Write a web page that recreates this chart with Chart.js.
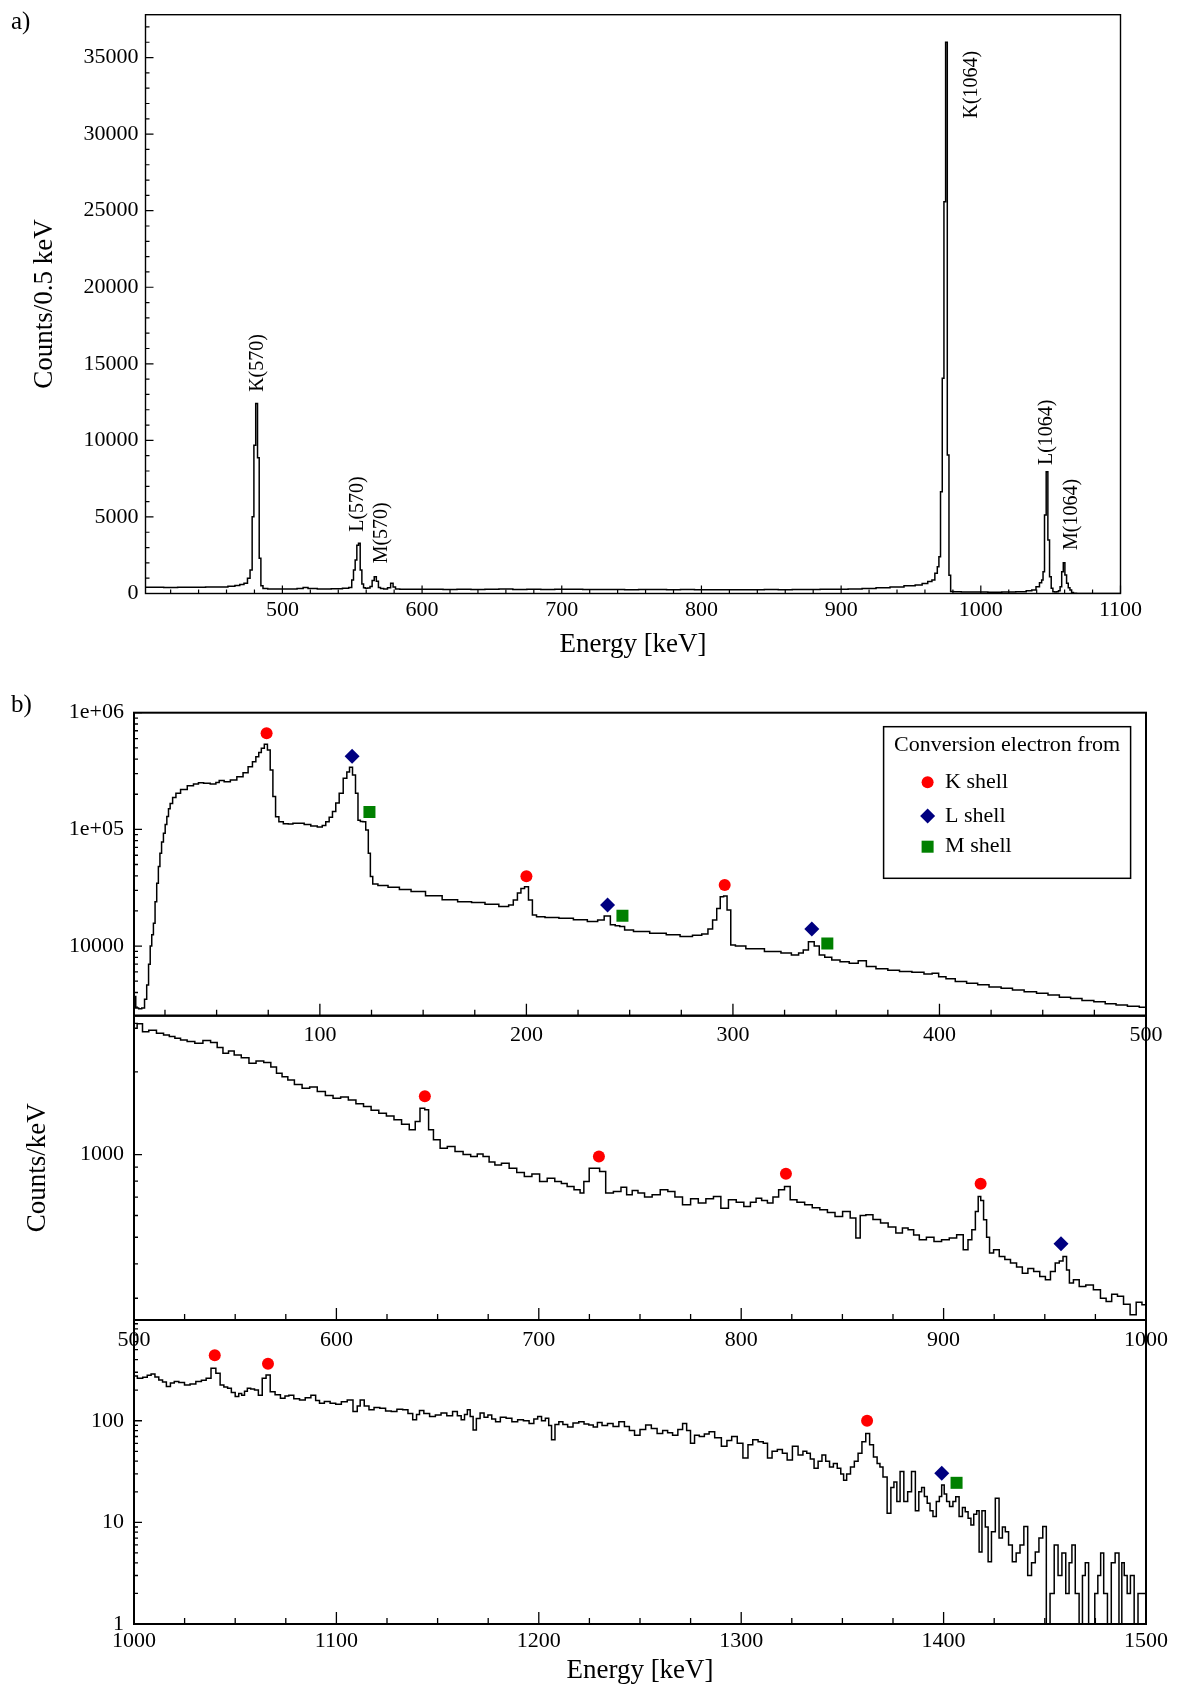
<!DOCTYPE html>
<html>
<head>
<meta charset="utf-8">
<script src="https://cdn.jsdelivr.net/npm/chart.js@4.4.1/dist/chart.umd.min.js"></script>
<style>
html,body{margin:0;padding:0;background:#fff;}
#page{position:relative;width:1177px;height:1691px;overflow:hidden;background:#fff;font-family:'Liberation Serif','Times New Roman',serif;}
canvas{position:absolute;left:0;}
.tag{position:absolute;font-size:25px;line-height:25px;color:#000;font-family:'Liberation Serif','Times New Roman',serif;}
</style>
</head>
<body>
<div id="page">
<canvas id="cA" width="1177" height="680" style="top:0px;width:1177px;height:680px"></canvas>
<canvas id="cB1" width="1177" height="372" style="top:690px;width:1177px;height:372px"></canvas>
<canvas id="cB2" width="1177" height="375" style="top:1000px;width:1177px;height:375px"></canvas>
<canvas id="cB3" width="1177" height="391" style="top:1300px;width:1177px;height:391px"></canvas>
<div class="tag" style="left:11px;top:8px">a)</div>
<div class="tag" style="left:11px;top:691px">b)</div>
</div>
<script>
// ---------------- DATA ----------------
// Panel a: [energy keV, counts per 0.5 keV]
const spectrumA = [[402,405],[410,410],[420,400],[430,408],[440,410],[450,418],[458,430],[464,470],[468,520],[471,580],[474,665],[476,990],[477.7,1530],[479,5010],[480.2,9690],[481.6,12415],[482.8,8860],[484,2300],[485.2,500],[487,330],[492,300],[500,290],[508,295],[513,330],[516.7,400],[520,320],[530,300],[540,310],[546,350],[549,400],[550.3,880],[551.5,1530],[552.7,2190],[553.9,3150],[555.1,3277],[556.3,1530],[557.5,620],[558.7,380],[560,340],[562,360],[563.5,450],[565,850],[566.5,1100],[568,800],[569.5,400],[571,320],[574,300],[576.5,380],[578.5,665],[580,420],[582,300],[586,285],[590,280],[600,270],[610,285],[620,268],[630,275],[640,262],[650,270],[660,290],[670,265],[680,270],[690,262],[700,275],[710,285],[720,265],[730,258],[740,262],[750,252],[760,260],[770,255],[780,250],[790,256],[800,246],[810,250],[820,245],[830,250],[840,246],[850,255],[860,250],[870,258],[880,265],[890,272],[900,285],[910,300],[920,330],[930,370],[940,420],[950,500],[956,555],[960,650],[964,780],[966,880],[968.2,1320],[969.5,1750],[970.5,2400],[971.8,6650],[973,14050],[974.2,25580],[975.4,36000],[976.6,9040],[977.8,1200],[979,130],[982,110],[990,95],[1000,90],[1010,85],[1020,90],[1030,110],[1035,180],[1038,230],[1041,445],[1043,700],[1044.1,880],[1045,1420],[1046.2,5120],[1047.4,7950],[1048.6,3490],[1049.8,1100],[1051,340],[1052.2,120],[1053.5,90],[1055,120],[1056.2,180],[1057.3,445],[1058.5,1420],[1059.6,2010],[1060.8,1210],[1062,665],[1063.2,380],[1064.4,230],[1065.6,60],[1067,10],[1070,5],[1080,0],[1090,0],[1100,0]];
const peakLabelsA = ['K(570)','L(570)','M(570)','K(1064)','L(1064)','M(1064)'];
const peakLabelAnchorsA = [[482.5,13170],[554.1,4030],[570.9,1970],[993.3,31020],[1047,8390],[1064.9,2840]];
const xTickLabelsA = [500,600,700,800,900,1000,1100];
const yTickLabelsA = [0,5000,10000,15000,20000,25000,30000,35000];

// Panel b, 10-500 keV: [energy keV, counts per keV]
const spectrumB1 = [[10.2,3700],[11.5,2950],[13,2900],[14.5,2950],[15.7,3500],[16.6,4640],[17.5,7000],[18.2,10000],[19,12500],[19.8,15700],[20.6,24000],[21.4,34500],[22.2,48000],[22.9,62400],[23.8,78000],[24.7,92700],[25.5,110000],[26.3,129000],[27.1,150000],[27.9,167000],[29.5,188000],[31.1,204000],[34,220000],[37.6,236000],[40,245000],[42.4,251000],[45,249000],[48.8,245000],[50.5,252000],[52,262000],[55.3,256000],[58,265000],[61.6,283000],[64,305000],[66.5,344000],[68.2,380000],[69.8,420000],[71,455000],[72.3,495000],[73.9,536000],[75.3,479000],[76.6,323000],[77.9,191000],[79.2,128000],[81.1,116000],[83.5,112000],[85.9,111000],[88,113000],[90.8,113000],[94,110000],[97.2,107000],[100.3,105000],[102,108000],[103.7,116000],[105.3,127000],[106.9,142000],[108.5,168000],[110.2,204000],[112.4,274000],[113.7,310000],[115,340000],[116.6,293000],[117.9,204000],[119,120000],[120.2,117000],[121.4,116000],[123,99000],[123.9,62400],[125,39400],[126.2,34000],[130,33000],[136,31900],[141,30500],[147.3,29300],[155,27000],[163.4,25000],[170,24000],[176.9,23600],[183,22800],[190.3,21800],[192.5,22500],[194.8,24800],[196.5,28500],[198.2,31200],[200,32300],[202,24800],[203.8,18500],[206,17800],[212,17600],[219.5,17300],[226,16800],[233,16200],[236,16700],[239.3,18100],[242,15200],[244,14900],[246.4,14700],[248.7,13700],[255,13300],[264.4,12900],[271,12500],[277.8,12100],[283,12400],[286.8,12700],[289,14000],[291.3,16700],[293,21000],[294.7,26500],[296.3,26800],[298,20400],[299.9,10200],[302.5,10000],[310,9500],[320.5,8970],[326,8700],[330.6,8390],[333,8700],[335.1,9270],[338,10900],[340.7,10000],[342.9,8390],[346,8000],[349.7,7600],[354,7350],[358.6,7130],[362.7,7500],[366.5,6670],[372,6400],[378,6200],[383.3,6040],[390,5950],[395,5750],[397.9,5850],[401.3,5470],[405,5250],[410.3,4960],[416,4800],[421,4650],[427,4450],[432.7,4350],[438,4200],[444,4050],[450,3950],[455.1,3810],[461,3650],[466,3550],[472,3420],[477.5,3340],[483,3200],[488,3120],[494,3050],[499.5,2990]];
const kShellB1 = [[74.2,666000],[200,39700],[296,33400]];
const lShellB1 = [[115.6,423000],[239.3,22500],[338.2,14000]];
const mShellB1 = [[124,141000],[246.5,18200],[345.7,10500]];
const xTickLabelsB1 = [100,200,300,400,500];
const yTickValuesB1 = [1e4,1e5,1e6];
const yTickLabelsB1 = ['10000','1e+05','1e+06'];

// Panel b, 500-1000 keV
const spectrumB2 = [[500.3,2880],[502.8,2990],[505.6,2800],[509,2830],[513.2,2765],[516,2720],[518.9,2686],[521.5,2650],[524.5,2610],[528,2580],[532.1,2540],[536,2600],[539.7,2555],[542.5,2450],[545.4,2336],[548,2380],[551,2304],[555,2250],[558.6,2150],[562,2190],[566.2,2161],[569,2080],[571.8,1977],[574.5,1920],[577.5,1869],[581,1800],[585.1,1744],[588.5,1760],[592.6,1694],[596.5,1640],[600.2,1603],[604,1620],[607.8,1580],[611.5,1530],[615.3,1495],[619,1450],[622.9,1414],[626.5,1380],[630.4,1337],[634,1290],[638,1230],[639.9,1318],[642.7,1475],[644.6,1454],[646.5,1230],[649.4,1131],[653.1,1055],[656.5,1070],[660.7,1025],[664.5,1000],[668.2,984],[671,1005],[673.9,984],[677,940],[679.6,917],[683.5,930],[687.2,892],[691,860],[694.7,832],[698.5,850],[702.3,798],[706,820],[709.8,798],[712.5,785],[715.5,765],[719.3,744],[721.5,724],[723,798],[726.8,892],[728.5,892],[731.6,867],[734.5,724],[739.2,734],[742,760],[744.8,714],[747.5,740],[750.5,724],[754,700],[758,714],[762,745],[765.5,734],[769,700],[773,656],[777,690],[780.6,666],[784.5,690],[788.1,704],[791.8,638],[795.6,684],[799.5,670],[803.1,647],[806,670],[808.7,694],[811.5,680],[814.4,666],[817,700],[820,744],[822.8,765],[825.6,684],[829.5,670],[833.2,656],[837,640],[840.7,629],[844.5,615],[848.2,595],[852,620],[855.7,587],[857.6,497],[860,600],[863.2,604],[867,580],[870.7,563],[874.5,545],[878.3,518],[881,540],[883.9,532],[886.5,510],[889.5,490],[893.5,500],[897,483],[901,490],[904.6,497],[908.3,511],[911.1,450],[913,490],[914.9,532],[916.5,620],[917.7,704],[919,680],[920.5,579],[922,500],[923.4,438],[926,450],[929,426],[931.5,415],[934.6,403],[937.5,390],[940.3,370],[943,385],[946,375],[949,360],[951.6,350],[954,375],[956.3,403],[958,410],[960,426],[961.5,380],[962.8,341],[965.5,350],[968.5,331],[972,335],[976,322],[979,300],[981.6,292],[984.5,310],[987.3,305],[990.5,285],[993.8,261],[996.5,290],[999.5,284]];
const kShellB2 = [[643.7,1631],[729.7,983],[822.1,851],[918.3,783]];
const lShellB2 = [[958,474]];
const xTickLabelsB2 = [500,600,700,800,900,1000];
const yTickValuesB2 = [1000];
const yTickLabelsB2 = ['1000'];

// Panel b, 1000-1500 keV
const spectrumB3 = [[1000.3,276],[1003,262],[1005.6,268],[1007.5,280],[1009.4,289],[1011.3,270],[1013.2,252],[1015,240],[1017,217],[1019,235],[1020.8,243],[1023.5,238],[1026.4,225],[1029,230],[1032.1,243],[1034.5,250],[1036.8,262],[1039.3,329],[1041.6,294],[1043.5,225],[1045.3,215],[1047.2,209],[1049,190],[1051,173],[1052.5,185],[1053.9,178],[1055.3,195],[1056.7,209],[1058.6,205],[1060.5,201],[1062.4,178],[1064.3,262],[1066.2,282],[1068.4,193],[1071,180],[1073.7,166],[1075.5,175],[1077.5,178],[1080.4,165],[1083.2,160],[1086,168],[1088.8,178],[1090.7,158],[1092.6,149],[1095.5,155],[1098.3,149],[1101,145],[1103.9,154],[1106.8,160],[1109.6,123],[1111,140],[1112.5,160],[1115,140],[1117.2,128],[1120,135],[1122.9,133],[1125.7,125],[1128.5,123],[1131.3,130],[1134.2,128],[1136.5,118],[1138.9,102],[1140.3,115],[1141.8,126],[1144.6,118],[1147.5,110],[1150.3,114],[1153.1,119],[1156,112],[1158.8,123],[1160.7,112],[1162.6,102],[1164,115],[1165.4,128],[1166.8,110],[1168.3,81],[1170,105],[1172,119],[1173.9,108],[1175.8,114],[1177.7,104],[1179.6,98],[1182.4,108],[1185.3,106],[1188.1,98],[1191,102],[1193.8,100],[1196.6,94],[1198.5,104],[1200.4,110],[1202.3,100],[1204.2,106],[1205.6,90],[1207,65],[1209,92],[1210.8,98],[1213,92],[1215.5,87],[1218.3,95],[1221.2,98],[1223.5,93],[1225.9,91],[1227.9,87],[1230,96],[1232.5,90],[1235.4,94],[1238,88],[1241.1,98],[1243.5,88],[1246,80],[1248.6,72],[1251.4,82],[1254.2,91],[1257,84],[1259.9,75],[1262.5,80],[1264.8,76],[1267.4,72],[1270,82],[1272.1,94],[1274,80],[1275.9,60],[1278,72],[1280.6,70],[1283,74],[1285.3,78],[1288.5,68],[1291.9,56],[1294,64],[1296.6,70],[1299.5,60],[1302.2,43],[1304.5,58],[1306.9,65],[1309.8,62],[1312,60],[1314,43],[1316.5,50],[1319.2,52],[1321.5,48],[1323.9,41],[1326.7,56],[1329.5,46],[1331.5,50],[1333.3,48],[1335,42],[1337,34],[1339,40],[1340.8,46],[1342.7,40],[1344.6,35],[1346.5,38],[1348.4,34],[1350,30],[1351.2,26],[1353,30],[1355,35],[1356.8,40],[1358.7,48],[1360.6,62],[1362.5,75],[1364.4,58],[1366.3,44],[1368,38],[1369.1,35],[1371,28],[1373.2,12.3],[1374.7,22],[1376.2,25],[1377.6,16],[1379.4,31.6],[1381.3,16],[1383.2,20],[1385.1,31.6],[1387,13],[1388.5,20],[1389.8,22],[1391.2,18],[1392.6,15.4],[1394,13],[1395.5,11.4],[1397.3,16],[1398.5,18],[1399.6,23.3],[1401,19],[1402,16],[1403.9,14.3],[1405.3,16],[1406.7,17.9],[1408.6,11.4],[1410,14],[1411.4,12.7],[1412.8,11],[1414.2,9.4],[1415.6,12],[1417.1,13],[1418,5.1],[1419.9,13],[1421.3,9],[1422.7,4.1],[1424.6,8.1],[1426.5,17.3],[1428.3,7],[1429.8,9],[1431.2,8.1],[1433,6],[1434.9,4.1],[1436.8,5],[1438.7,6],[1440.6,9.1],[1442.5,3],[1444.4,4],[1446.2,5.1],[1448,7],[1450,9.1],[1451.5,0],[1453.7,2],[1455.6,6],[1457.5,3],[1459.4,5],[1461.3,2],[1462.7,4],[1464.1,6],[1466,2],[1467.9,0],[1469.3,3],[1470.7,4],[1472.6,0],[1474,1],[1475.4,2],[1477,3],[1478.2,5],[1480,2],[1481.9,0],[1483.8,4],[1485.7,5],[1487.6,0],[1488.5,4],[1490,3],[1491.4,2],[1493.2,3],[1495.1,0],[1497,2],[1499.8,2]];
const kShellB3 = [[1039.9,440],[1066.2,364],[1362.2,100]];
const lShellB3 = [[1399.1,30.5]];
const mShellB3 = [[1406.4,24.5]];
const xTickLabelsB3 = [1000,1100,1200,1300,1400,1500];
const yTickValuesB3 = [1,10,100];
const yTickLabelsB3 = ['1','10','100'];

const shellNames = ['K shell','L shell','M shell'];
const legendTitle = 'Conversion electron from';

// ---------------- STYLE / HELPERS ----------------
const FONT = "'Liberation Serif','Times New Roman',serif";
Chart.defaults.font.family = FONT;
Chart.defaults.color = '#000';
const SHELL_STYLE = [
  {style:'circle', r:6, color:'#ff0000'},
  {style:'rectRot', r:7.5, color:'#000080'},
  {style:'rect', r:8.5, color:'#008000'}
];

function linTicks(min, max, step, len) {
  const out = [];
  for (let v = Math.ceil(min / step - 1e-9) * step; v <= max + 1e-9; v += step) out.push({v, len});
  return out;
}
function logTicks(min, max, lenMajor, lenMinor) {
  const out = [];
  for (let d = Math.floor(Math.log10(min)); d <= Math.ceil(Math.log10(max)); d++) {
    for (let m = 1; m <= 9; m++) {
      const v = m * Math.pow(10, d);
      if (v >= min * 0.9999 && v <= max * 1.0001) out.push({v, len: m === 1 ? lenMajor : lenMinor});
    }
  }
  return out;
}

const frameTicks = {
  id: 'frameTicks',
  afterDatasetsDraw(chart, args, o) {
    const {ctx, chartArea: a} = chart;
    const xs = chart.scales.x, ys = chart.scales.y;
    ctx.save();
    ctx.strokeStyle = '#000';
    ctx.lineWidth = o.tickWidth;
    ctx.beginPath();
    o.xTicks.forEach(t => {
      const px = xs.getPixelForValue(t.v);
      if (px < a.left - 0.5 || px > a.right + 0.5) return;
      ctx.moveTo(px, a.bottom); ctx.lineTo(px, a.bottom - t.len);
    });
    o.yTicks.forEach(t => {
      const py = ys.getPixelForValue(t.v);
      if (py < a.top - 0.5 || py > a.bottom + 0.5) return;
      ctx.moveTo(a.left, py); ctx.lineTo(a.left + t.len, py);
    });
    ctx.stroke();
    ctx.lineWidth = o.frameWidth;
    ctx.strokeRect(a.left, a.top, a.right - a.left, a.bottom - a.top);
    ctx.restore();
  }
};

const peakLabels = {
  id: 'peakLabels',
  afterDatasetsDraw(chart, args, o) {
    const {ctx} = chart;
    ctx.save();
    ctx.fillStyle = '#000';
    ctx.font = o.size + 'px ' + FONT;
    ctx.textAlign = 'left';
    ctx.textBaseline = 'middle';
    o.labels.forEach((txt, i) => {
      const px = chart.scales.x.getPixelForValue(o.anchors[i][0]);
      const py = chart.scales.y.getPixelForValue(o.anchors[i][1]);
      ctx.save();
      ctx.translate(px, py);
      ctx.rotate(-Math.PI / 2);
      ctx.fillText(txt, 0, 0);
      ctx.restore();
    });
    ctx.restore();
  }
};

function drawMarker(ctx, style, x, y, r) {
  ctx.beginPath();
  if (style === 'circle') ctx.arc(x, y, r, 0, Math.PI * 2);
  else if (style === 'rectRot') { ctx.moveTo(x - r, y); ctx.lineTo(x, y - r); ctx.lineTo(x + r, y); ctx.lineTo(x, y + r); ctx.closePath(); }
  else { const h = r * Math.SQRT1_2; ctx.rect(x - h, y - h, 2 * h, 2 * h); }
  ctx.fill();
}

const shellLegend = {
  id: 'shellLegend',
  afterDatasetsDraw(chart, args, o) {
    const {ctx, chartArea: a} = chart;
    const x1 = a.right - o.right, x0 = x1 - o.w, y0 = a.top + o.top;
    ctx.save();
    ctx.fillStyle = '#fff';
    ctx.fillRect(x0, y0, o.w, o.h);
    ctx.strokeStyle = '#000';
    ctx.lineWidth = 1.5;
    ctx.strokeRect(x0, y0, o.w, o.h);
    ctx.fillStyle = '#000';
    ctx.font = o.size + 'px ' + FONT;
    ctx.textBaseline = 'middle';
    ctx.textAlign = 'center';
    ctx.fillText(o.title, x0 + o.w / 2, y0 + o.titleY);
    ctx.textAlign = 'left';
    const items = chart.data.datasets.filter(d => d.inLegend);
    items.forEach((d, i) => {
      const yy = y0 + o.rowY[i];
      ctx.fillStyle = d.pointBackgroundColor;
      drawMarker(ctx, d.pointStyle, x0 + o.markX, yy, d.legendR);
      ctx.fillStyle = '#000';
      ctx.fillText(d.label, x0 + o.textX, yy);
    });
    ctx.restore();
  }
};

function markerSets(sets) {
  return sets.filter(s => s.pts && s.pts.length).map(s => ({
    type: 'line', label: s.label, inLegend: true,
    data: s.pts.map(p => ({x: p[0], y: p[1]})),
    showLine: false,
    pointStyle: s.style, pointRadius: s.r, pointHoverRadius: s.r,
    pointBackgroundColor: s.color, pointBorderColor: s.color, pointBorderWidth: 0,
    backgroundColor: s.color, borderColor: s.color,
    legendR: s.legendR || s.r
  }));
}

function makeChart(id, cfg) {
  const spectrum = {
    type: 'line',
    data: cfg.spectrum.map(p => ({x: p[0], y: (cfg.log && p[1] <= 0) ? cfg.zeroAs : p[1]})),
    borderColor: '#000', borderWidth: 1.5, pointRadius: 0, stepped: 'middle', fill: false, tension: 0
  };
  const datasets = [spectrum].concat(markerSets(cfg.markers || []));
  const plugins = [frameTicks];
  const pluginOpts = {legend: {display: false}, tooltip: {enabled: false}, frameTicks: cfg.ticks};
  if (cfg.peakLabels) { plugins.push(peakLabels); pluginOpts.peakLabels = cfg.peakLabels; }
  if (cfg.legend) { plugins.push(shellLegend); pluginOpts.shellLegend = cfg.legend; }
  return new Chart(document.getElementById(id), {
    type: 'line',
    data: {datasets},
    options: {
      responsive: false, animation: false, events: [],
      layout: {padding: cfg.pad},
      plugins: pluginOpts,
      scales: {
        x: {
          type: 'linear', min: cfg.xMin, max: cfg.xMax,
          afterBuildTicks: s => { s.ticks = cfg.xLabels.map(v => ({value: v})); },
          ticks: {autoSkip: false, maxRotation: 0, minRotation: 0, padding: cfg.xPad, font: {size: 22}, color: '#000', callback: v => String(v)},
          grid: {display: false, drawTicks: false}, border: {display: false},
          title: cfg.xTitle ? {display: true, text: cfg.xTitle, font: {size: 27}, color: '#000', padding: {top: 0, bottom: cfg.xTitlePad}} : {display: false},
          afterFit: s => { s.height = cfg.xH; s.paddingLeft = 0; s.paddingRight = 0; }
        },
        y: {
          type: cfg.log ? 'logarithmic' : 'linear', min: cfg.yMin, max: cfg.yMax,
          afterBuildTicks: s => { s.ticks = cfg.yVals.map(v => ({value: v})); },
          ticks: {autoSkip: false, padding: cfg.yPad, font: {size: 22}, color: '#000',
                  callback: v => { const i = cfg.yVals.indexOf(v); return i >= 0 ? cfg.yLabels[i] : ''; }},
          grid: {display: false, drawTicks: false}, border: {display: false},
          title: cfg.yTitle ? {display: true, text: cfg.yTitle, font: {size: 27}, color: '#000', padding: {top: cfg.yTitlePad, bottom: 0}} : {display: false},
          afterFit: s => { s.width = cfg.yW; s.paddingTop = 0; s.paddingBottom = 0; }
        }
      }
    },
    plugins
  });
}

function shells(k, l, m) {
  return [
    Object.assign({label: shellNames[0], pts: k}, SHELL_STYLE[0]),
    Object.assign({label: shellNames[1], pts: l}, SHELL_STYLE[1]),
    Object.assign({label: shellNames[2], pts: m}, SHELL_STYLE[2])
  ];
}

// ---------------- PANEL a ----------------
makeChart('cA', {
  spectrum: spectrumA, log: false,
  xMin: 402, xMax: 1100, yMin: 0, yMax: 37800,
  xLabels: xTickLabelsA, yVals: yTickLabelsA, yLabels: yTickLabelsA.map(String),
  pad: {left: 0, top: 14.7, right: 56.5, bottom: 0},
  xH: 86.5, yW: 145.5, xPad: 4, yPad: 7,
  xTitle: 'Energy [keV]', xTitlePad: 18.8, yTitle: 'Counts/0.5 keV', yTitlePad: 28.8,
  ticks: {tickWidth: 1.2, frameWidth: 1.4,
    xTicks: linTicks(402, 1100, 20, 4).concat(linTicks(402, 1100, 100, 8)),
    yTicks: linTicks(0, 37800, 1000, 4).concat(linTicks(0, 37800, 5000, 8))},
  peakLabels: {size: 20, labels: peakLabelsA, anchors: peakLabelAnchorsA}
});

// ---------------- PANEL b (top) ----------------
makeChart('cB1', {
  spectrum: spectrumB1, log: true, zeroAs: 0.3,
  xMin: 10, xMax: 500, yMin: 2530, yMax: 1e6,
  xLabels: xTickLabelsB1, yVals: yTickValuesB1, yLabels: yTickLabelsB1,
  pad: {left: 0, top: 22.7, right: 31, bottom: 0},
  xH: 46.3, yW: 134, xPad: 6, yPad: 10,
  ticks: {tickWidth: 1.3, frameWidth: 2,
    xTicks: linTicks(10, 500, 25, 6).concat(linTicks(10, 500, 100, 12)),
    yTicks: logTicks(2530, 1e6, 8, 4)},
  markers: shells(kShellB1, lShellB1, mShellB1),
  legend: {title: legendTitle, size: 22, right: 15.4, top: 14, w: 247, h: 151.6, titleY: 19, rowY: [55.6, 89.3, 120], markX: 44, textX: 61.5}
});

// ---------------- PANEL b (middle) ----------------
makeChart('cB2', {
  spectrum: spectrumB2, log: true, zeroAs: 0.3,
  xMin: 500, xMax: 1000, yMin: 250, yMax: 3200,
  xLabels: xTickLabelsB2, yVals: yTickValuesB2, yLabels: yTickLabelsB2,
  pad: {left: 0, top: 15.7, right: 31, bottom: 0},
  xH: 55, yW: 134, xPad: 7, yPad: 10,
  yTitle: 'Counts/keV', yTitlePad: 21.6,
  ticks: {tickWidth: 1.3, frameWidth: 2,
    xTicks: linTicks(500, 1000, 25, 6).concat(linTicks(500, 1000, 100, 12)),
    yTicks: logTicks(250, 3200, 8, 4)},
  markers: shells(kShellB2, lShellB2, [])
});

// ---------------- PANEL b (bottom) ----------------
makeChart('cB3', {
  spectrum: spectrumB3, log: true, zeroAs: 0.3,
  xMin: 1000, xMax: 1500, yMin: 1, yMax: 980,
  xLabels: xTickLabelsB3, yVals: yTickValuesB3, yLabels: yTickLabelsB3,
  pad: {left: 0, top: 20, right: 31, bottom: 0},
  xH: 67, yW: 134, xPad: 4, yPad: 10,
  xTitle: 'Energy [keV]', xTitlePad: 3.8,
  ticks: {tickWidth: 1.3, frameWidth: 2,
    xTicks: linTicks(1000, 1500, 25, 6).concat(linTicks(1000, 1500, 100, 12)),
    yTicks: logTicks(1, 980, 8, 4)},
  markers: shells(kShellB3, lShellB3, mShellB3)
});
</script>
</body>
</html>
